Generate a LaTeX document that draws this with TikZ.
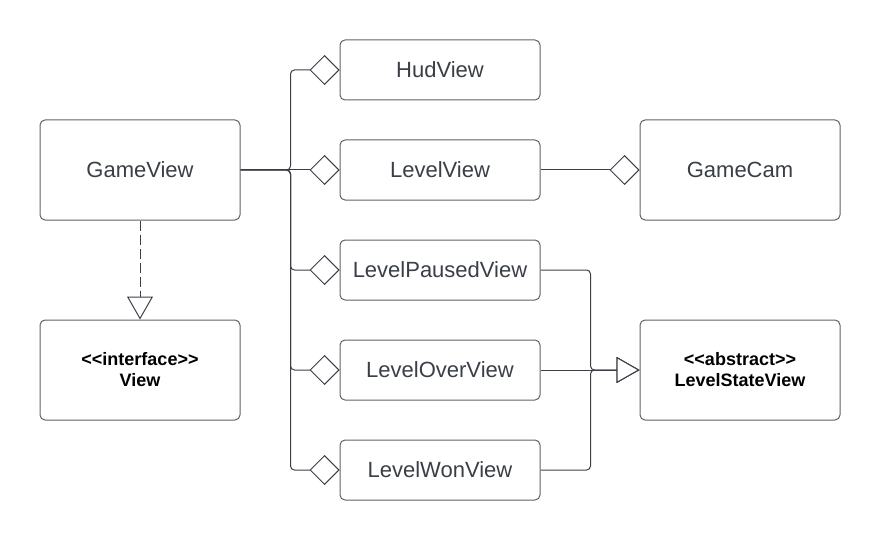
\documentclass[tikz,border=0pt]{standalone}
\usepackage{fontspec}
\setmainfont{Liberation Sans}
\usetikzlibrary{arrows.meta}
\definecolor{boxline}{RGB}{94,98,104}
\definecolor{txtgrey}{RGB}{58,63,71}
\tikzset{
  cls/.style={draw=boxline,line width=1pt,rounded corners=5pt,fill=white,text=txtgrey,
    minimum width=200pt,font=\fontsize{22}{26}\selectfont},
  bigcls/.style={cls,minimum height=100pt},
  smallcls/.style={cls,minimum height=60pt},
  stereo/.style={bigcls,align=center,text=black,font=\fontsize{18}{21}\selectfont\bfseries},
  conn/.style={draw=txtgrey,line width=1pt,rounded corners=4pt},
  agg/.style={conn,-{Diamond[open,length=30pt,width=30pt,fill=white]}},
  inherit/.style={conn,-{Triangle[open,length=23pt,width=26pt,fill=white]}}
}
\begin{document}
\begin{tikzpicture}[x=1pt,y=-1pt]
  \useasboundingbox (0,0) rectangle (880,540);
  %\draw[thin,gray!40] (0,0) grid[step=20] (880,540);
  \node[bigcls] (gameview) at (140,170) {GameView};
  \node[stereo] (view) at (140,370) {{<}{<}interface{>}{>}\\View};
  \node[smallcls] (hud) at (440,70) {HudView};
  \node[smallcls] (level) at (440,170) {LevelView};
  \node[smallcls] (paused) at (440,270) {LevelPausedView};
  \node[smallcls] (over) at (440,370) {LevelOverView};
  \node[smallcls] (won) at (440,470) {LevelWonView};
  \node[bigcls] (cam) at (740,170) {GameCam};
  \node[stereo] (state) at (740,370) {{<}{<}abstract{>}{>}\\LevelStateView};

  \draw[conn,dash pattern=on 10pt off 4pt,-{Triangle[open,length=23pt,width=26pt,fill=white]}] (gameview) -- (view);
  \draw[agg] (gameview.east) -- ++(50,0) |- (hud.west);
  \draw[agg] (gameview.east) -- (level.west);
  \draw[agg] (gameview.east) -- ++(50,0) |- (paused.west);
  \draw[agg] (gameview.east) -- ++(50,0) |- (over.west);
  \draw[agg] (gameview.east) -- ++(50,0) |- (won.west);
  \draw[agg] (level.east) -- (cam.west);
  \draw[inherit] (paused.east) -- ++(50,0) |- (state.west);
  \draw[inherit] (over.east) -- (state.west);
  \draw[inherit] (won.east) -- ++(50,0) |- (state.west);
\end{tikzpicture}
\end{document}
